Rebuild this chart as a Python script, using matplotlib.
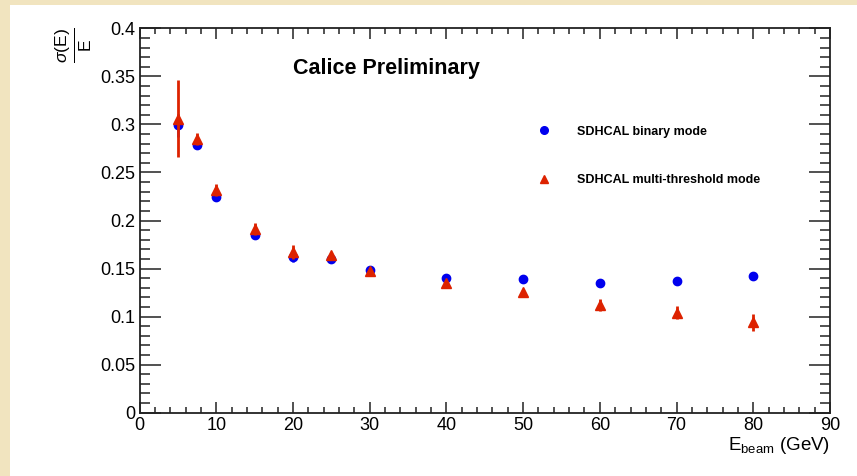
import matplotlib
matplotlib.use("Agg")
import matplotlib.pyplot as plt
import numpy as np
from matplotlib.patches import Rectangle
from matplotlib.lines import Line2D
from matplotlib.ticker import MultipleLocator, FuncFormatter

plt.rcParams['font.family'] = ['Liberation Sans', 'DejaVu Sans']
plt.rcParams['mathtext.fontset'] = 'custom'
plt.rcParams['mathtext.rm'] = 'Liberation Sans'
plt.rcParams['mathtext.it'] = 'Liberation Sans:italic'
plt.rcParams['mathtext.bf'] = 'Liberation Sans:bold'

# beam energies (GeV)
e_beam = [5, 7.5, 10, 15, 20, 25, 30, 40, 50, 60, 70, 80]

# binary mode resolution
res_binary = [0.299, 0.279, 0.224, 0.185, 0.162, 0.160, 0.148, 0.140, 0.139, 0.135, 0.137, 0.142]
err_binary = [0.012, 0.005, 0.003, 0.003, 0.005, 0.002, 0.002, 0.002, 0.004, 0.002, 0.002, 0.002]

# multi-threshold mode resolution
res_multi = [0.306, 0.285, 0.232, 0.191, 0.167, 0.164, 0.147, 0.135, 0.126, 0.112, 0.104, 0.094]
err_multi = [0.040, 0.006, 0.006, 0.006, 0.007, 0.003, 0.002, 0.002, 0.002, 0.006, 0.007, 0.009]

blue = '#0000ee'
red = '#dd2200'

fig = plt.figure(figsize=(8.57, 4.76), dpi=100, facecolor='#f1e4bf')
fig.patches.append(Rectangle((10 / 857, 0), 1, 1 - 5 / 476, transform=fig.transFigure,
                             facecolor='white', edgecolor='none', zorder=-10))

ax = fig.add_axes([139.5 / 857, 63.3 / 476, 690.5 / 857, 384.4 / 476])
ax.set_facecolor('white')

ax.errorbar(e_beam, res_binary, yerr=err_binary, fmt='o', color=blue, ms=6,
            elinewidth=1.8, capsize=0, zorder=3)
ax.errorbar(e_beam, res_multi, yerr=err_multi, fmt='^', color=red, ms=6.5,
            elinewidth=2, capsize=0, zorder=4)

ax.set_xlim(0, 90)
ax.set_ylim(0, 0.4)
ax.xaxis.set_major_locator(MultipleLocator(10))
ax.xaxis.set_minor_locator(MultipleLocator(2))
ax.yaxis.set_major_locator(MultipleLocator(0.05))
ax.yaxis.set_minor_locator(MultipleLocator(0.01))
ax.yaxis.set_major_formatter(FuncFormatter(lambda v, p: '%g' % round(v, 3)))

ax.tick_params(axis='both', which='both', direction='in', top=True, right=True,
               labelsize=13, width=1.1, color='#222222')
ax.tick_params(axis='x', which='major', length=8, pad=3)
ax.tick_params(axis='x', which='minor', length=4)
ax.tick_params(axis='y', which='major', length=15, pad=3)
ax.tick_params(axis='y', which='minor', length=7.5)
for s in ax.spines.values():
    s.set_linewidth(1.3)
    s.set_color('#222222')

ax.text(0.223, 0.895, 'Calice Preliminary', transform=ax.transAxes,
        fontsize=15.5, fontweight='bold', ha='left', va='center')

handles = [Line2D([], [], ls='none', marker='o', color=blue, ms=5.5),
           Line2D([], [], ls='none', marker='^', color=red, ms=5.5)]
labels = ['SDHCAL binary mode', 'SDHCAL multi-threshold mode']
ax.legend(handles, labels, loc='upper left', bbox_to_anchor=(0.568, 0.747), frameon=False,
          borderpad=0, borderaxespad=0, handlelength=2, handletextpad=1.6,
          labelspacing=2.95, prop={'weight': 'bold', 'size': 9})

fig.text(830 / 857, 1 - 446 / 476, r'E$_{\mathrm{beam}}$ (GeV)', ha='right', va='center',
         fontsize=13.5)
fig.text(73 / 857, 1 - 45 / 476, r'$\frac{\sigma(\mathrm{E})}{\mathrm{E}}$', rotation=90,
         ha='center', va='center', fontsize=18)

fig.savefig('out.png', dpi=100, facecolor=fig.get_facecolor())
